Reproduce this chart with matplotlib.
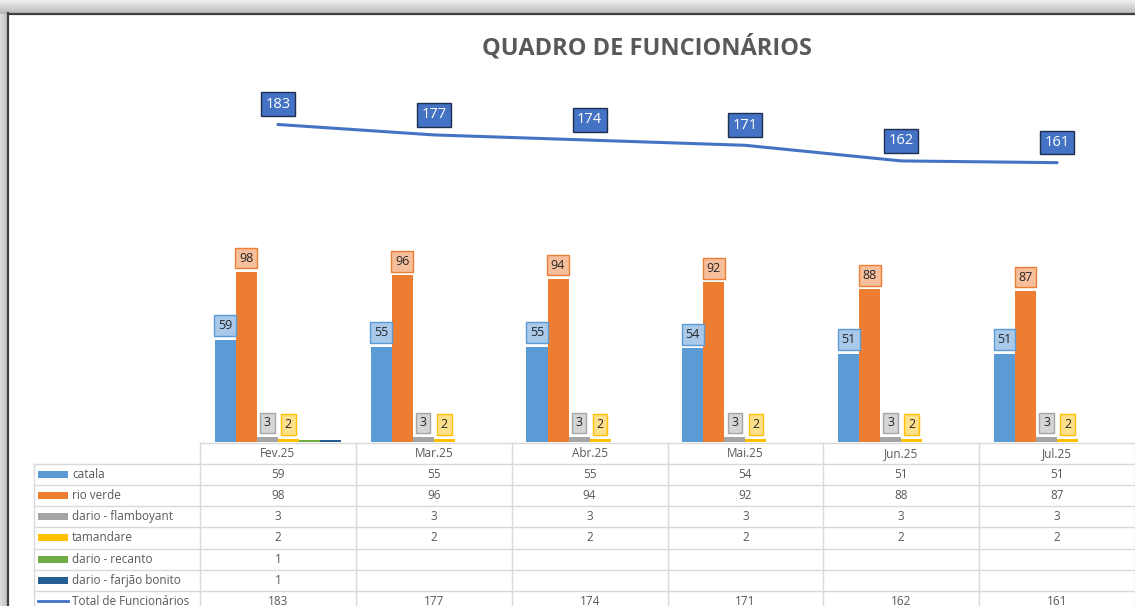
import numpy as np
import matplotlib.pyplot as plt
from matplotlib.patches import Rectangle

# data
months = ['Fev.25', 'Mar.25', 'Abr.25', 'Mai.25', 'Jun.25', 'Jul.25']
catala = [59, 55, 55, 54, 51, 51]
rio_verde = [98, 96, 94, 92, 88, 87]
flamboyant = [3, 3, 3, 3, 3, 3]
tamandare = [2, 2, 2, 2, 2, 2]
recanto = [1, None, None, None, None, None]
farjao = [1, None, None, None, None, None]
total = [183, 177, 174, 171, 162, 161]

names = ['catala', 'rio verde', 'dario - flamboyant', 'tamandare',
         'dario - recanto', 'dario - farjão bonito']
series = [catala, rio_verde, flamboyant, tamandare, recanto, farjao]
total_name = 'Total de Funcionários'

colors = ['#5B9BD5', '#ED7D31', '#A5A5A5', '#FFC000', '#70AD47', '#255E91']
label_fc = ['#A9C9EA', '#F7BE9C', '#D6D6D6', '#FFE08A']
line_color = '#4472C4'
text_gray = '#595959'
grid_gray = '#D9D9D9'

W, H = 1135, 606
fig = plt.figure(figsize=(W / 100, H / 100), dpi=100)
plt.rcParams['font.family'] = ['Open Sans', 'DejaVu Sans']

# background axes in pixel coordinates (screenshot frame + data table)
bg = fig.add_axes([0, 0, 1, 1], zorder=0)
bg.set_xlim(0, W)
bg.set_ylim(H, 0)
bg.axis('off')

img = np.ones((H, W))
yy, xx = np.mgrid[0:H, 0:W]
top = yy < 14
left = xx < 8
img[top] = 0.93 - 0.22 * (yy[top] / 14.0)
img[left & ~top] = 0.86 - 0.12 * (xx[left & ~top] / 8.0)
bg.imshow(img, cmap='gray', vmin=0, vmax=1, extent=(0, W, H, 0), aspect='auto')
bg.plot([8, 8], [13, H], color='#3F3F3F', lw=1.6)
bg.plot([8, W], [13.5, 13.5], color='#3F3F3F', lw=1.6)

# chart axes
X0, X1 = 200, 1135          # category area in pixels
Y0, YTOP = 442, 95          # baseline and top of value axis
ax = fig.add_axes([X0 / W, 1 - Y0 / H, (X1 - X0) / W, (Y0 - YTOP) / H], zorder=2)
ax.set_facecolor('none')
n = len(months)
x = np.arange(n)
ax.set_xlim(-0.5, n - 0.5)
ax.set_ylim(0, 200)
ax.axis('off')

bw = 0.135
for k, vals in enumerate(series):
    h = np.array([np.nan if v is None else v for v in vals], dtype=float)
    ax.bar(x + (k - 2.5) * bw, h, bw, color=colors[k], zorder=2)
    if k < 4:
        for i, v in enumerate(vals):
            if v is None:
                continue
            ax.annotate(str(v), (x[i] + (k - 2.5) * bw, v), xytext=(0, 10),
                        textcoords='offset points', ha='center', va='center',
                        fontsize=9, color='#262626', zorder=4,
                        bbox=dict(boxstyle='square,pad=0.3', fc=label_fc[k],
                                  ec=colors[k], lw=1))

ax.plot(x, total, color=line_color, lw=2.2, zorder=3, solid_capstyle='round')
for i, v in enumerate(total):
    ax.annotate(str(v), (x[i], v), xytext=(0, 14.5), textcoords='offset points',
                ha='center', va='center', fontsize=10.5, color='white', zorder=4,
                bbox=dict(boxstyle='square,pad=0.3', fc=line_color,
                          ec='#1F2F4F', lw=1))

fig.text(647 / W, 1 - 48 / H, 'QUADRO DE FUNCIONÁRIOS', ha='center', va='center',
         fontsize=17, fontweight='bold', color=text_gray)

# data table
cw = (X1 - X0) / n
rh = 21.1
t0 = 443
lx = 34
rows = names + [total_name]
nrows = len(rows)
yb = t0 + rh * (nrows + 1)
bg.plot([X0, W], [t0, t0], color=grid_gray, lw=1)
for r in range(1, nrows + 1):
    bg.plot([lx, W], [t0 + r * rh, t0 + r * rh], color=grid_gray, lw=1)
bg.plot([lx, lx], [t0 + rh, yb], color=grid_gray, lw=1)
for c in range(n + 1):
    bg.plot([X0 + c * cw] * 2, [t0, yb], color=grid_gray, lw=1)

for c, m in enumerate(months):
    bg.text(X0 + (c + 0.5) * cw, t0 + rh / 2, m, ha='center', va='center',
            fontsize=8.5, color=text_gray)

table_vals = series + [total]
for r, (nm, vals) in enumerate(zip(rows, table_vals)):
    yc = t0 + (r + 1.5) * rh
    if r < len(names):
        bg.add_patch(Rectangle((38, yc - 3.5), 30, 7, color=colors[r], lw=0))
    else:
        bg.plot([38, 68], [yc, yc], color=line_color, lw=2)
    bg.text(72, yc, nm, ha='left', va='center', fontsize=8.5, color=text_gray)
    for c, v in enumerate(vals):
        if v is None:
            continue
        bg.text(X0 + (c + 0.5) * cw, yc, str(v), ha='center', va='center',
                fontsize=8.5, color=text_gray)

plt.savefig('out.png', dpi=100)
